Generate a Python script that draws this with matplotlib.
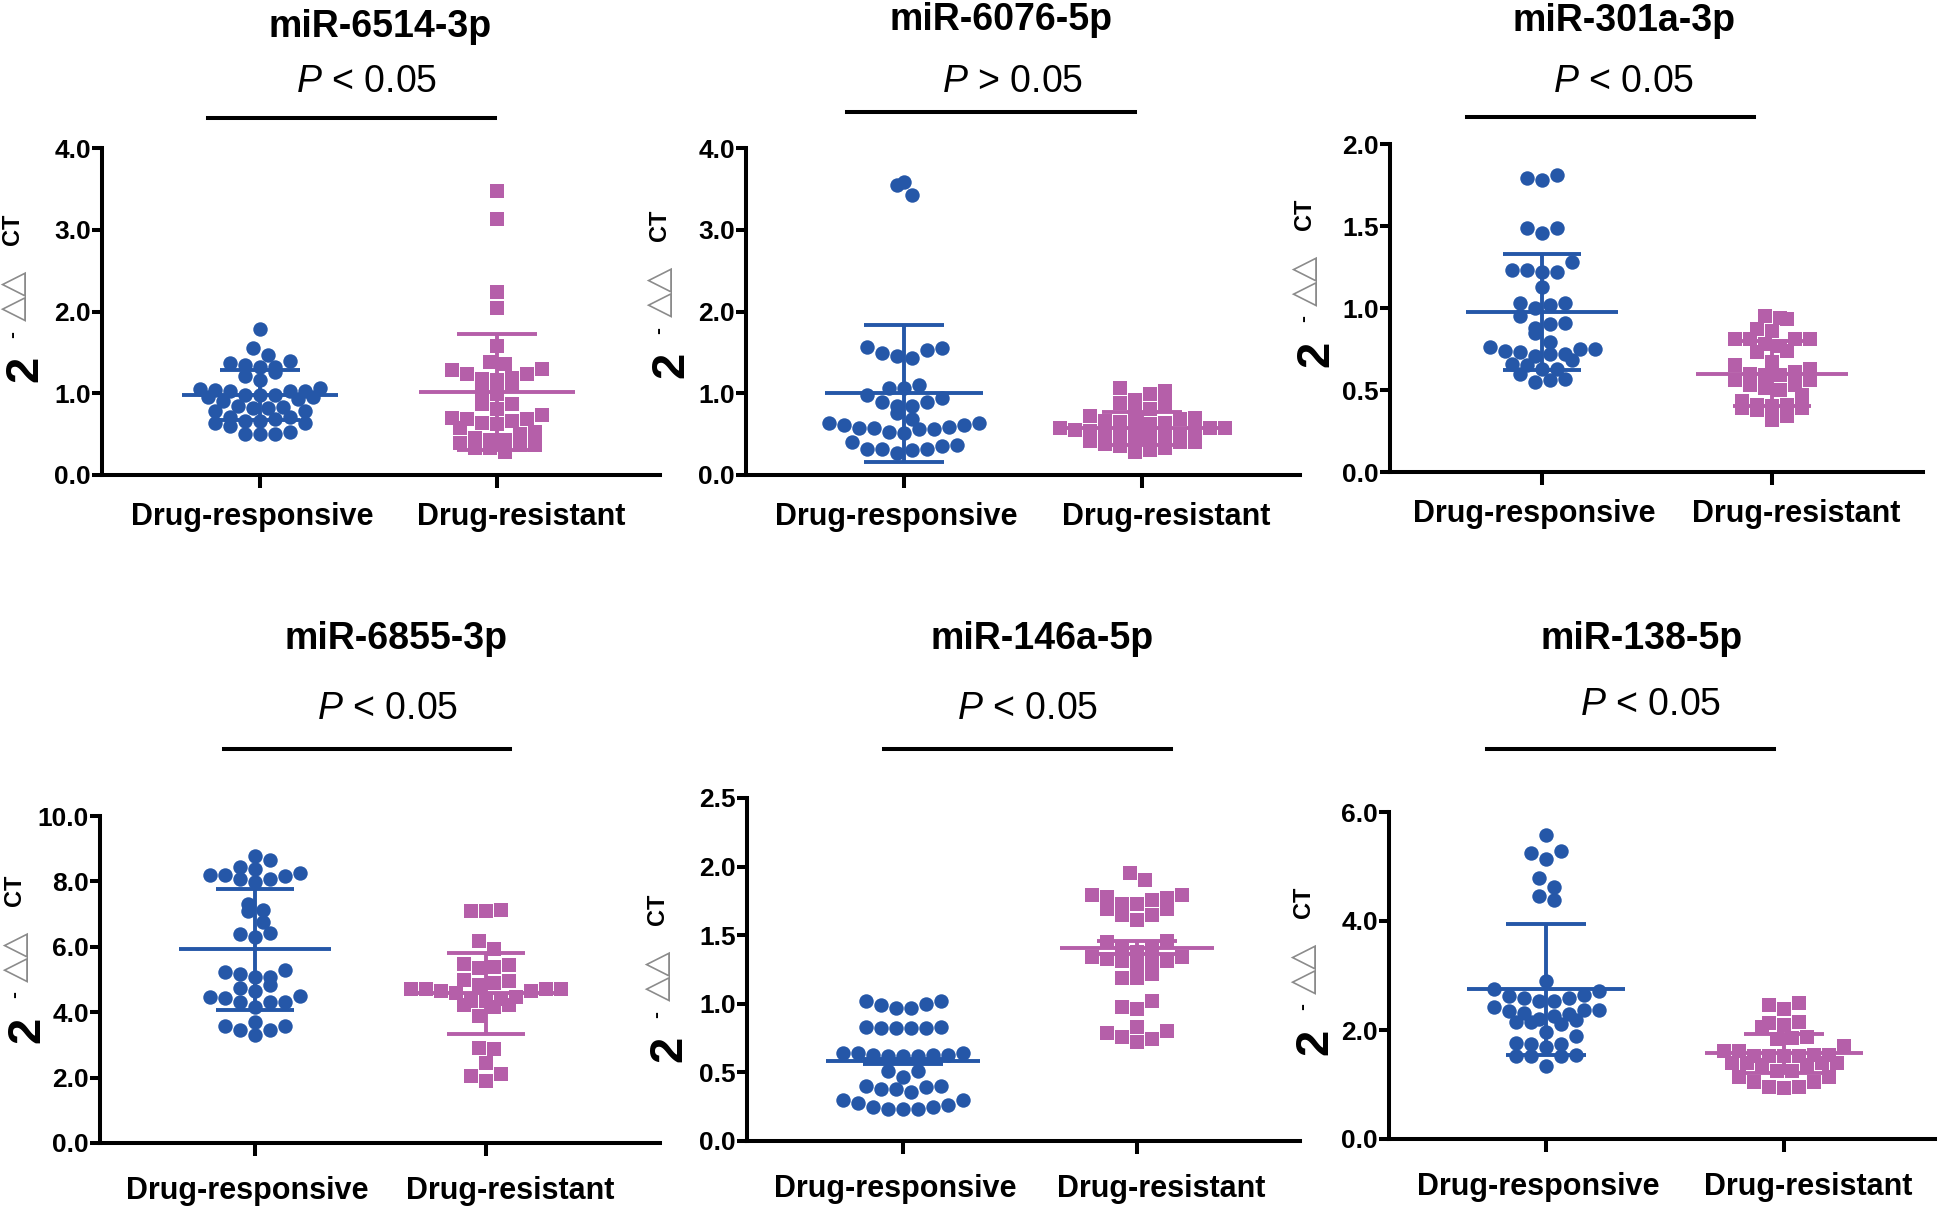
import numpy as np
import matplotlib
matplotlib.use("Agg")
from matplotlib import pyplot as plt
from matplotlib.lines import Line2D

plt.rcParams['font.family'] = ['Liberation Sans', 'DejaVu Sans']
plt.rcParams['mathtext.fontset'] = 'custom'
plt.rcParams['mathtext.it'] = 'Liberation Sans:italic'
plt.rcParams['mathtext.rm'] = 'Liberation Sans'

W, H = 1944, 1210
BLUE = '#2557a8'
PINK = '#b55fa9'

groups = ['Drug-responsive', 'Drug-resistant']
titles = ['miR-6514-3p', 'miR-6076-5p', 'miR-301a-3p',
          'miR-6855-3p', 'miR-146a-5p', 'miR-138-5p']
pvals = ['<', '>', '<', '<', '<', '<']

resp_6514 = [1.78, 1.55, 1.47, 1.39, 1.37, 1.35, 1.32, 1.32, 1.26, 1.21, 1.16, 1.07, 1.05,
             1.03, 1.03, 1.03, 1.04, 0.98, 0.98, 0.98, 0.95, 0.95, 0.93, 0.90, 0.85, 0.82,
             0.78, 0.78, 0.82, 0.83, 0.71, 0.69, 0.66, 0.64, 0.66, 0.71, 0.60, 0.63, 0.50,
             0.50, 0.50, 0.52]
resist_6514 = [3.48, 3.13, 2.24, 2.04, 1.58, 1.38, 1.36, 1.30, 1.29, 1.23, 1.23, 1.19, 1.18,
               1.16, 1.10, 0.99, 1.01, 0.87, 0.87, 0.81, 0.74, 0.70, 0.69, 0.68, 0.66, 0.63,
               0.62, 0.57, 0.52, 0.50, 0.43, 0.45, 0.39, 0.37, 0.43, 0.37, 0.33, 0.28, 0.33]

resp_6076 = [3.55, 3.58, 3.43, 1.55, 1.57, 1.49, 1.53, 1.43, 1.46, 1.06, 1.06, 1.10, 0.98,
             0.94, 0.89, 0.89, 0.85, 0.84, 0.76, 0.69, 0.64, 0.61, 0.58, 0.56, 0.52, 0.51,
             0.56, 0.58, 0.59, 0.61, 0.64, 0.37, 0.32, 0.32, 0.27, 0.30, 0.32, 0.36, 0.40]
resist_6076 = [1.06, 1.03, 0.99, 0.92, 0.88, 0.87, 0.81, 0.75, 0.72, 0.70, 0.68, 0.66, 0.65,
               0.64, 0.62, 0.60, 0.58, 0.57, 0.57, 0.55, 0.54, 0.52, 0.50, 0.50, 0.48, 0.46,
               0.45, 0.44, 0.42, 0.40, 0.40, 0.38, 0.36, 0.33, 0.30, 0.28]

resp_301a = [1.79, 1.78, 1.81, 1.49, 1.46, 1.49, 1.28, 1.23, 1.22, 1.22, 1.23, 1.13, 1.03,
             1.02, 1.00, 1.03, 0.95, 0.91, 0.90, 0.88, 0.85, 0.79, 0.76, 0.75, 0.74, 0.75,
             0.72, 0.71, 0.72, 0.73, 0.68, 0.65, 0.63, 0.66, 0.63, 0.60, 0.57, 0.55, 0.56]
resist_301a = [0.95, 0.93, 0.94, 0.86, 0.87, 0.81, 0.81, 0.81, 0.81, 0.78, 0.77, 0.74, 0.73,
               0.67, 0.65, 0.63, 0.61, 0.60, 0.59, 0.59, 0.56, 0.56, 0.53, 0.53, 0.51, 0.50,
               0.47, 0.43, 0.41, 0.39, 0.38, 0.39, 0.40, 0.41, 0.32, 0.34]

resp_6855 = [8.77, 8.65, 8.39, 8.45, 8.21, 8.25, 8.15, 8.21, 8.06, 8.06, 7.98, 7.30, 7.14,
             7.08, 6.75, 6.39, 6.31, 6.43, 5.24, 5.30, 5.08, 5.08, 5.18, 4.82, 4.64, 4.73,
             4.46, 4.49, 4.32, 4.32, 4.32, 4.44, 4.17, 3.57, 3.69, 3.45, 3.57, 3.45, 3.30]
resist_6855 = [7.14, 7.08, 7.11, 6.19, 5.92, 5.48, 5.44, 5.39, 5.36, 5.00, 4.94, 4.88, 4.82,
               4.70, 4.70, 4.64, 4.64, 4.70, 4.70, 4.58, 4.40, 4.46, 4.35, 4.35, 4.23, 4.23,
               4.17, 3.89, 2.89, 2.86, 2.46, 2.11, 2.06, 1.90]

resp_146a = [1.02, 0.99, 0.97, 0.97, 1.00, 1.02, 0.83, 0.82, 0.82, 0.82, 0.82, 0.83, 0.64,
             0.64, 0.62, 0.63, 0.62, 0.62, 0.63, 0.63, 0.64, 0.51, 0.47, 0.51, 0.40, 0.40,
             0.38, 0.36, 0.38, 0.39, 0.30, 0.28, 0.25, 0.23, 0.23, 0.23, 0.25, 0.26, 0.30]
resist_146a = [1.95, 1.90, 1.76, 1.77, 1.73, 1.73, 1.79, 1.78, 1.69, 1.69, 1.65, 1.65, 1.61,
               1.79, 1.34, 1.31, 1.31, 1.41, 1.38, 1.41, 1.29, 1.31, 1.33, 1.34, 1.45, 1.46,
               1.22, 1.19, 1.19, 0.98, 0.96, 1.02, 0.80, 0.76, 0.72, 0.74, 0.79, 0.83]

resp_138 = [5.57, 5.24, 5.14, 5.29, 4.79, 4.62, 4.45, 4.38, 2.89, 2.75, 2.71, 2.64, 2.59,
            2.54, 2.54, 2.59, 2.62, 2.36, 2.34, 2.29, 2.21, 2.14, 2.11, 2.14, 2.18, 2.25,
            2.32, 2.36, 2.43, 1.89, 1.96, 1.68, 1.74, 1.74, 1.76, 1.52, 1.52, 1.52, 1.54, 1.34]
resist_138 = [2.46, 2.50, 2.39, 2.14, 2.09, 2.05, 2.12, 1.86, 1.84, 1.88, 1.71, 1.62, 1.61,
              1.54, 1.53, 1.52, 1.52, 1.53, 1.54, 1.39, 1.36, 1.39, 1.39, 1.36, 1.39, 1.25,
              1.25, 1.14, 1.14, 1.04, 1.04, 0.96, 0.93, 0.96]

resp_data = [resp_6514, resp_6076, resp_301a, resp_6855, resp_146a, resp_138]
resist_data = [resist_6514, resist_6076, resist_301a, resist_6855, resist_146a, resist_138]

# mean and SD as drawn on the figure
resp_mean = [0.98, 1.00, 0.975, 5.92, 0.58, 2.75]
resp_sd = [0.31, 0.84, 0.355, 1.84, 0.02, 1.20]
resist_mean = [1.02, 0.57, 0.60, 4.58, 1.41, 1.57]
resist_sd = [0.71, 0.20, 0.20, 1.24, 0.05, 0.36]

ymax = [4.0, 4.0, 2.0, 10.0, 2.5, 6.0]
ystep = [1.0, 1.0, 0.5, 2.0, 0.5, 2.0]

# layout in pixels: axis left, axis right, category 0, category 1, bottom, top
layout = [
    (102, 660, 260, 497, 475, 148),
    (746, 1300, 904, 1142, 475, 148),
    (1390, 1923, 1542, 1772, 472, 144),
    (100, 660, 255, 486, 1143, 816),
    (747, 1300, 903, 1137, 1141, 798),
    (1389, 1935, 1546, 1784, 1139, 812),
]
# title x, y / p-text x, y / bar x0, x1, y / ylabel "2" x, y
annots = [
    (380, 27, 367, 82, 208, 495, 118, 25, 367),
    (1001, 20, 1013, 82, 847, 1135, 112, 671, 363),
    (1624, 21, 1624, 82, 1467, 1754, 117, 1316, 352),
    (396, 639, 388, 709, 224, 510, 749, 27, 1028),
    (1042, 639, 1028, 709, 884, 1171, 749, 669, 1047),
    (1642, 639, 1651, 705, 1487, 1774, 749, 1315, 1040),
]


def fx(x):
    return x / W


def fy(y):
    return 1 - y / H


def swarm(vals, center, dx, dy):
    # rows of nearby values, lowest value in the middle of each row
    v = np.sort(np.asarray(vals, dtype=float))
    xs, ys = [], []
    i = 0
    while i < len(v):
        j = i
        while j < len(v) and v[j] - v[i] <= dy:
            j += 1
        row = v[i:j]
        n = len(row)
        offs = (np.arange(n) - (n - 1) / 2) * dx
        order = np.argsort(np.abs(offs) + 1e-6 * np.arange(n) * ((-1) ** np.arange(n)))
        for k, idx in enumerate(order):
            xs.append(center + offs[idx])
            ys.append(row[k])
        i = j
    return np.array(xs), np.array(ys)


fig = plt.figure(figsize=(W / 100, H / 100), dpi=100)

for k in range(6):
    L, R, c0, c1, B, T = layout[k]
    sp = c1 - c0
    ax = fig.add_axes([fx(L), fy(B), (R - L) / W, (B - T) / H])
    ax.set_xlim((L - c0) / sp, (R - c0) / sp)
    ax.set_ylim(0, ymax[k])
    dx = 15.0 / sp
    dy = 12 * ymax[k] / (B - T)

    for g, (vals, col, mk, mean, sd) in enumerate([
            (resp_data[k], BLUE, 'o', resp_mean[k], resp_sd[k]),
            (resist_data[k], PINK, 's', resist_mean[k], resist_sd[k])]):
        xs, ys = swarm(vals, g, dx, dy)
        ax.scatter(xs, ys, s=108 if mk == 'o' else 95, marker=mk, color=col,
                   linewidths=0, zorder=2, clip_on=False)
        ax.hlines(mean, g - 0.33, g + 0.33, color=col, lw=2.8, zorder=3)
        ax.hlines([mean - sd, mean + sd], g - 0.17, g + 0.17, color=col, lw=2.8, zorder=3)
        ax.vlines(g, mean - sd, mean + sd, color=col, lw=2.8, zorder=3)

    for s in ['top', 'right']:
        ax.spines[s].set_visible(False)
    for s in ['left', 'bottom']:
        ax.spines[s].set_linewidth(2.9)
    ax.set_xticks([0, 1])
    ax.set_xticklabels([])
    lab_off = 42 if k < 3 else 48
    for g, shift in enumerate([-8, 24]):
        ax.text(g + shift / sp, -lab_off / (B - T), groups[g], transform=ax.get_xaxis_transform(),
                ha='center', va='center', fontsize=22, fontweight='bold')
    yt = np.arange(0, ymax[k] + 1e-9, ystep[k])
    ax.set_yticks(yt)
    ax.set_yticklabels(['%.1f' % t for t in yt], fontsize=19, fontweight='bold')
    ax.tick_params(axis='x', direction='out', length=9.5, width=2.9)
    ax.tick_params(axis='y', direction='out', length=7, width=2.9, pad=1)

    tx, ty, px, py, bx0, bx1, by, lx, ly = annots[k]
    fig.text(fx(tx), fy(ty), titles[k], ha='center', va='center',
             fontsize=27, fontweight='bold')
    fig.text(fx(px), fy(py), r'$\mathit{P}$ ' + pvals[k] + ' 0.05', ha='center',
             va='center', fontsize=27)
    fig.add_artist(Line2D([fx(bx0), fx(bx1)], [fy(by), fy(by)],
                          transform=fig.transFigure, color='black', lw=2.9))

    # y label: 2 - (triangles) CT
    fig.text(fx(lx), fy(ly + 2), '2', rotation=90, ha='center', va='center',
             fontsize=34, fontweight='bold')
    fig.text(fx(lx - 12), fy(ly - 33), '-', rotation=90, ha='center', va='center',
             fontsize=15, fontweight='bold')
    fig.text(fx(lx - 12), fy(ly - 72), '\u25b3\u25b3', rotation=90, ha='center',
             va='center', fontsize=24, color='#8a8a8a', family='DejaVu Sans')
    fig.text(fx(lx - 12), fy(ly - 138), 'CT', rotation=90, ha='center', va='center',
             fontsize=17, fontweight='bold')

fig.savefig('out.png', dpi=100)
